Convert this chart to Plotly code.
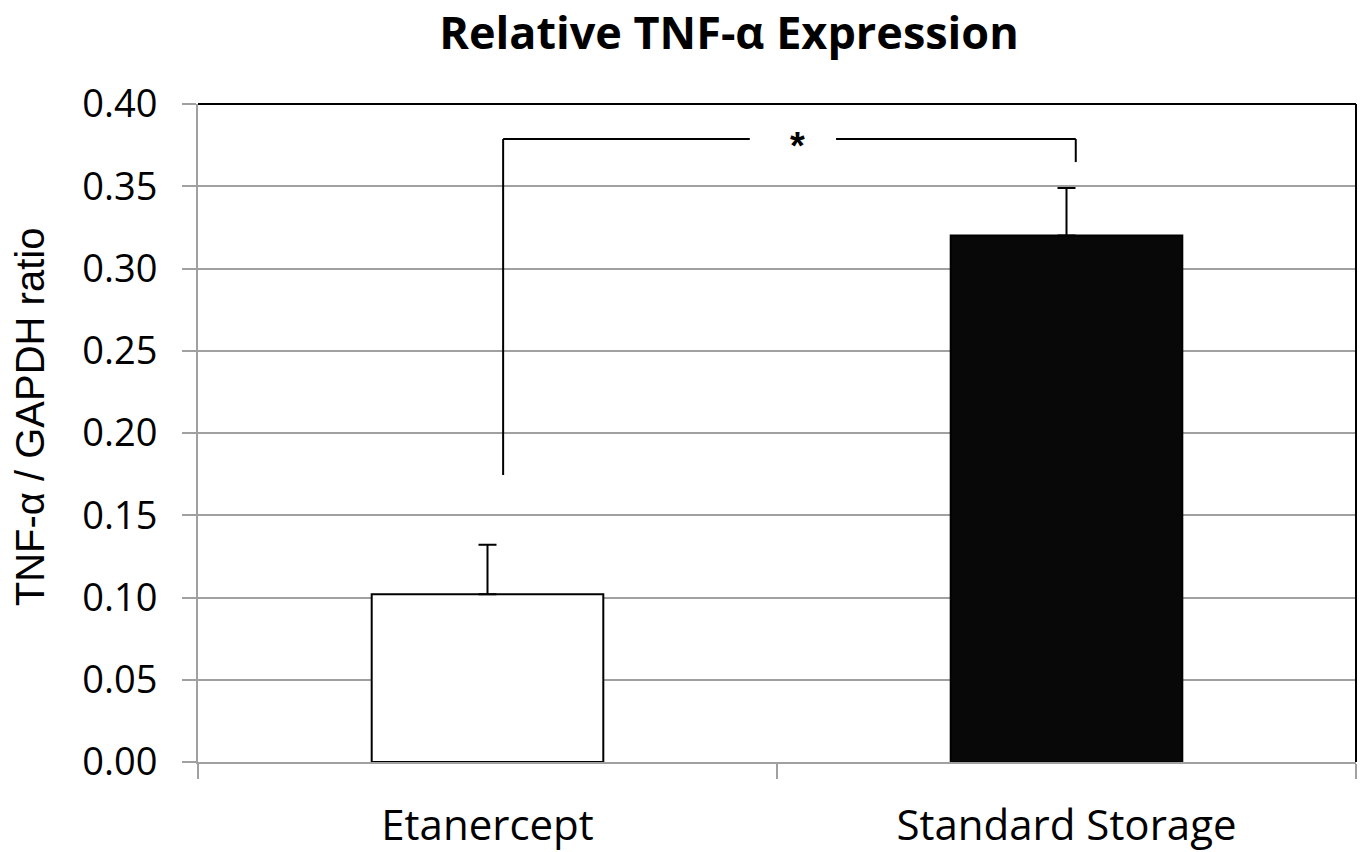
import plotly.graph_objects as go

categories = ["Etanercept", "Standard Storage"]
values = [0.102, 0.320]
errors_up = [0.030, 0.029]
bar_colors = ["#ffffff", "#080808"]
y_ticks = [0.0, 0.05, 0.10, 0.15, 0.20, 0.25, 0.30, 0.35, 0.40]
y_tick_labels = ["0.00", "0.05", "0.10", "0.15", "0.20", "0.25", "0.30", "0.35", "0.40"]

# significance bracket (category index offsets, y values)
bracket_x = [0.027, 1.016]
bracket_y_top = 0.3787
bracket_y_left = 0.1745
bracket_y_right = 0.3647
gap_x = [0.453, 0.602]
star_x = 0.535
star_label = "*"

GRID = "#a0a0a0"
FONT = "Open Sans"

fig = go.Figure()
fig.add_trace(go.Bar(
    x=categories, y=values,
    marker=dict(color=bar_colors, line=dict(color="#000000", width=2)),
    error_y=dict(type="data", array=errors_up, arrayminus=[0, 0], symmetric=False,
                 color="#000000", thickness=2, width=9),
    width=0.4,
))

line = dict(color="#000000", width=2)
# bracket
fig.add_shape(type="line", x0=bracket_x[0], x1=bracket_x[0], y0=bracket_y_left, y1=bracket_y_top, line=line)
fig.add_shape(type="line", x0=bracket_x[0], x1=gap_x[0], y0=bracket_y_top, y1=bracket_y_top, line=line)
fig.add_shape(type="line", x0=gap_x[1], x1=bracket_x[1], y0=bracket_y_top, y1=bracket_y_top, line=line)
fig.add_shape(type="line", x0=bracket_x[1], x1=bracket_x[1], y0=bracket_y_top, y1=bracket_y_right, line=line)
fig.add_annotation(x=star_x, y=bracket_y_top, text="<b>" + star_label + "</b>", showarrow=False,
                   font=dict(family="Liberation Sans", size=38, color="#000"), yshift=-7)

# frame top/right in black
fig.add_shape(type="line", xref="paper", yref="paper", x0=0, x1=1, y0=1, y1=1, line=line)
fig.add_shape(type="line", xref="paper", yref="paper", x0=1, x1=1, y0=0, y1=1, line=line)

# y axis title
fig.add_annotation(xref="paper", yref="paper", x=-0.145, y=0.524, text="TNF-α / GAPDH ratio",
                   textangle=-90, showarrow=False, xanchor="center", yanchor="middle",
                   font=dict(family="Liberation Sans", size=40, color="#000"))

fig.update_layout(
    width=1363, height=852,
    margin=dict(l=198, r=7, t=104, b=90),
    paper_bgcolor="#ffffff", plot_bgcolor="#ffffff",
    showlegend=False,
    title=dict(text="<b>Relative TNF-α Expression</b>", x=729 / 1363, xanchor="center",
               y=1 - 33 / 852, yanchor="middle",
               font=dict(family=FONT, size=45, color="#000")),
    font=dict(family=FONT, color="#000"),
    bargap=0.6,
)
fig.update_xaxes(
    showline=True, linecolor=GRID, linewidth=2,
    ticks="outside", tickson="boundaries", ticklen=15, tickcolor=GRID, tickwidth=2,
    tickfont=dict(family=FONT, size=42, color="#000"),
    showgrid=False, ticklabelstandoff=26, automargin=False,
)
fig.update_yaxes(
    range=[0, 0.4], tickvals=y_ticks, ticktext=y_tick_labels,
    showline=True, linecolor=GRID, linewidth=2,
    ticks="outside", ticklen=14, tickcolor=GRID, tickwidth=2,
    showgrid=True, gridcolor=GRID, gridwidth=2, zeroline=False,
    tickfont=dict(family=FONT, size=38, color="#000"),
    ticklabelstandoff=17, automargin=False,
)

fig.write_html("out.html")
